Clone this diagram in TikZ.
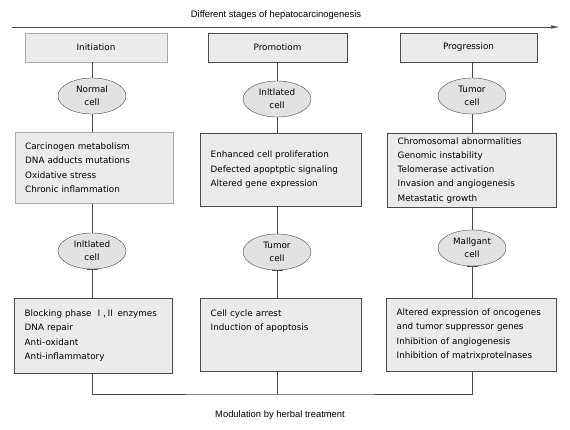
\documentclass[tikz,border=0pt]{standalone}
\usepackage{fontspec}
\setmainfont{DejaVu Sans}
\newfontfamily\arialfont{Liberation Sans}
\newfontfamily\cjk{Noto Sans CJK SC}
\usetikzlibrary{arrows.meta,shapes.geometric,positioning}
\definecolor{myFill}{HTML}{EBEBEB}
\definecolor{myCell}{HTML}{E2E2E2}
\definecolor{myLine}{HTML}{4A4A4A}
\definecolor{myLight}{HTML}{A8A8A8}

\begin{document}
\begin{tikzpicture}
[
x=1pt,y=-1pt,
arr/.style={myLine,line width=0.7pt},
inhib/.style={arr,-{Bar[width=11pt,line width=1.2pt]}},
axis/.style={myLine,line width=0.7pt,-{Latex[length=9pt,width=3.5pt]}},
stage/.style={draw=myLine,fill=myFill,minimum height=29pt,inner sep=0pt,font=\fontsize{8.8}{11}\selectfont},
cell/.style={ellipse,draw=myLine,fill=myCell,minimum width=68pt,minimum height=36pt,inner sep=0pt,align=center,font=\fontsize{8.8}{13}\selectfont},
panel/.style={draw=myLine,fill=myFill,anchor=north west,align=left,inner xsep=10.5pt,inner ysep=0pt,font=\fontsize{8.8}{14.3}\selectfont},
caption/.style={font=\arialfont\fontsize{9.4}{11}\selectfont},
]
\useasboundingbox (0,0) rectangle (570,430);

% Nodes
\node[caption] (stages) at (276,15) {Different stages of hepatocarcinogenesis};
\coordinate (axstart) at (12,27);
\coordinate (axend) at (560,27);

\node[stage,draw=myLight,minimum width=142pt] (init) at (96,47.5) {Initiation};
\node[stage,minimum width=139pt] (prom) at (277.5,47.5) {Promotiom};
\node[stage,minimum width=137pt] (prog) at (468.5,47.5) {Progression};

\node[cell] (c1) at (92,96) {Normal\\cell};
\node[cell] (c2) at (277,99) {Inltlated\\cell};
\node[cell] (c3) at (472,96) {Tumor\\cell};

\node[panel,draw=myLight,minimum width=158pt,minimum height=71.5pt,text width=137pt] (m1) at (14.5,131.7) {Carcinogen metabolism\\DNA adducts mutations\\Oxidative stress\\Chronic inflammation};
\node[panel,minimum width=161pt,minimum height=73pt,text width=140pt] (m2) at (200,133) {Enhanced cell proliferation\\Defected apoptptic signaling\\Altered gene expression};
\node[panel,minimum width=169pt,minimum height=74pt,text width=148pt] (m3) at (387,133) {Chromosomal abnormalities\\Genomic instability\\Telomerase activation\\Invasion and angiogenesis\\Metastatic growth};

\node[cell] (d1) at (92,251) {Inltlated\\cell};
\node[cell] (d2) at (277,252) {Tumor\\cell};
\node[cell] (d3) at (472,248) {Mallgant\\cell};

\node[panel,minimum width=158pt,minimum height=75pt,text width=137pt] (b1) at (14,298) {Blocking phase {\cjk Ⅰ,Ⅱ} enzymes\\DNA repair\\Anti-oxidant\\Anti-inflammatory};
\node[panel,minimum width=161pt,minimum height=73pt,text width=140pt] (b2) at (200,298) {Cell cycle arrest\\Induction of apoptosis\\~\\~};
\node[panel,minimum width=170pt,minimum height=73pt,text width=149pt] (b3) at (386,298) {Altered expression of oncogenes\\and tumor suppressor genes\\Inhibition of angiogenesis\\Inhibition of matrixprotelnases};

\coordinate (join) at (277,394);
\node[caption] (herbal) at (280,415) {Modulation by herbal treatment};

% Edges
\draw[axis] (axstart) -- (axend);
\draw[arr] (init.south -| c1) -- (c1.north);
\draw[arr] (prom.south -| c2) -- (c2.north);
\draw[arr] (prog.south -| c3) -- (c3.north);
\draw[arr] (c1.south) -- (c1.south |- m1.north);
\draw[arr] (c2.south) -- (c2.south |- m2.north);
\draw[arr] (c3.south) -- (c3.south |- m3.north);
\draw[arr] (m1.south -| d1) -- (d1.north);
\draw[arr] (m2.south -| d2) -- (d2.north);
\draw[arr] (m3.south -| d3) -- (d3.north);
\draw[inhib] (b1.north -| d1) -- (d1.south);
\draw[inhib] (b2.north -| d2) -- (d2.south);
\draw[inhib] (b3.north -| d3) -- (d3.south);
\draw[arr] (b1.south -| d1) |- (join) -| (b3.south -| d3);
\draw[arr] (b2.south -| d2) -- (join);

\end{tikzpicture}
\end{document}
